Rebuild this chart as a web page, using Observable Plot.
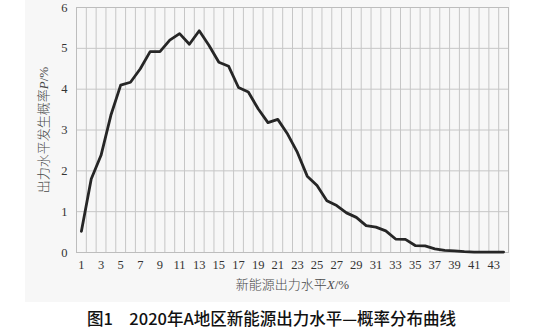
<!DOCTYPE html>
<html>
<head>
<meta charset="utf-8">
<script src="https://cdn.jsdelivr.net/npm/d3@7"></script>
<script src="https://cdn.jsdelivr.net/npm/@observablehq/plot@0.6"></script>
<style>
  html, body { margin: 0; padding: 0; background: #fff; }
  #wrap { width: 543px; }
  #chart { background: linear-gradient(to right, #fff 25px, #f7f7f7 25px, #f7f7f7 510px, #fff 510px); height: 302px; }
  #chart svg text { font-family: "Liberation Serif", "DejaVu Serif", serif; }
  #caption { text-align: center; font-family: "Noto Sans CJK SC", sans-serif; font-weight: 500; font-size: 16.5px; color: #111; margin-top: 4px; }
</style>
</head>
<body>
<div id="wrap">
  <div id="chart"></div>
  <div id="caption">图1　2020年A地区新能源出力水平—概率分布曲线</div>
</div>
<script>
// Output level categories (%)
const levels = d3.range(1, 45);
// Probability of each output level (%)
const probability = [
  0.52, 1.80, 2.38, 3.36, 4.10, 4.17, 4.50, 4.92, 4.92, 5.20,
  5.36, 5.10, 5.43, 5.07, 4.66, 4.56, 4.04, 3.93, 3.52, 3.18,
  3.26, 2.90, 2.45, 1.87, 1.64, 1.27, 1.15, 0.97, 0.86, 0.66,
  0.62, 0.53, 0.33, 0.32, 0.17, 0.16, 0.09, 0.05, 0.04, 0.02,
  0.01, 0.01, 0.01, 0.01
];
const xTicks = d3.range(1, 44, 2);
const yTicks = [0, 1, 2, 3, 4, 5, 6];
const xBoundaries = d3.range(0.5, 45, 1);

const data = levels.map((x, i) => ({x, p: probability[i]}));

const chart = Plot.plot({
  width: 543,
  height: 300,
  marginTop: 7,
  marginBottom: 48,
  marginLeft: 76,
  marginRight: 35,
  style: { background: "transparent", fontSize: "12.5px", color: "#333" },
  x: { domain: [0.5, 44.5], ticks: xTicks, tickFormat: d3.format("d"), tickSize: 0, tickPadding: 8, label: "新能源出力水平X/%", labelAnchor: "center", labelArrow: "none", labelOffset: 36 },
  y: { domain: [0, 6], ticks: yTicks, tickFormat: d3.format("d"), tickSize: 0, tickPadding: 9, label: "出力水平发生概率P/%", labelAnchor: "center", labelArrow: "none", labelOffset: 38 },
  marks: [
    Plot.ruleX(xBoundaries, { stroke: "#c6c6c6", strokeWidth: 1 }),
    Plot.ruleY(yTicks, { stroke: "#c6c6c6", strokeWidth: 1 }),
    Plot.frame({ stroke: "#bdbdbd" }),
    Plot.line(data, { x: "x", y: "p", stroke: "#262626", strokeWidth: 2.8, strokeLinejoin: "round", strokeLinecap: "round" })
  ]
});

// style axis labels: CJK text with italic variable letter
chart.querySelectorAll("g[aria-label='x-axis label'] text, g[aria-label='y-axis label'] text").forEach(t => {
  const s = t.textContent;
  const m = s.match(/^(.*?)([XP])(\/%)$/);
  if (m) {
    t.textContent = "";
    const a = document.createElementNS("http://www.w3.org/2000/svg", "tspan");
    a.textContent = m[1];
    a.setAttribute("style", "font-family: 'Noto Sans CJK SC', sans-serif; font-weight: 300;");
    const b = document.createElementNS("http://www.w3.org/2000/svg", "tspan");
    b.textContent = m[2];
    b.setAttribute("font-style", "italic");
    const c = document.createElementNS("http://www.w3.org/2000/svg", "tspan");
    c.textContent = m[3];
    t.append(a, b, c);
  }
  t.setAttribute("fill", "#4a4a4a");
  t.setAttribute("font-size", "13");
});

document.getElementById("chart").append(chart);
</script>
</body>
</html>
